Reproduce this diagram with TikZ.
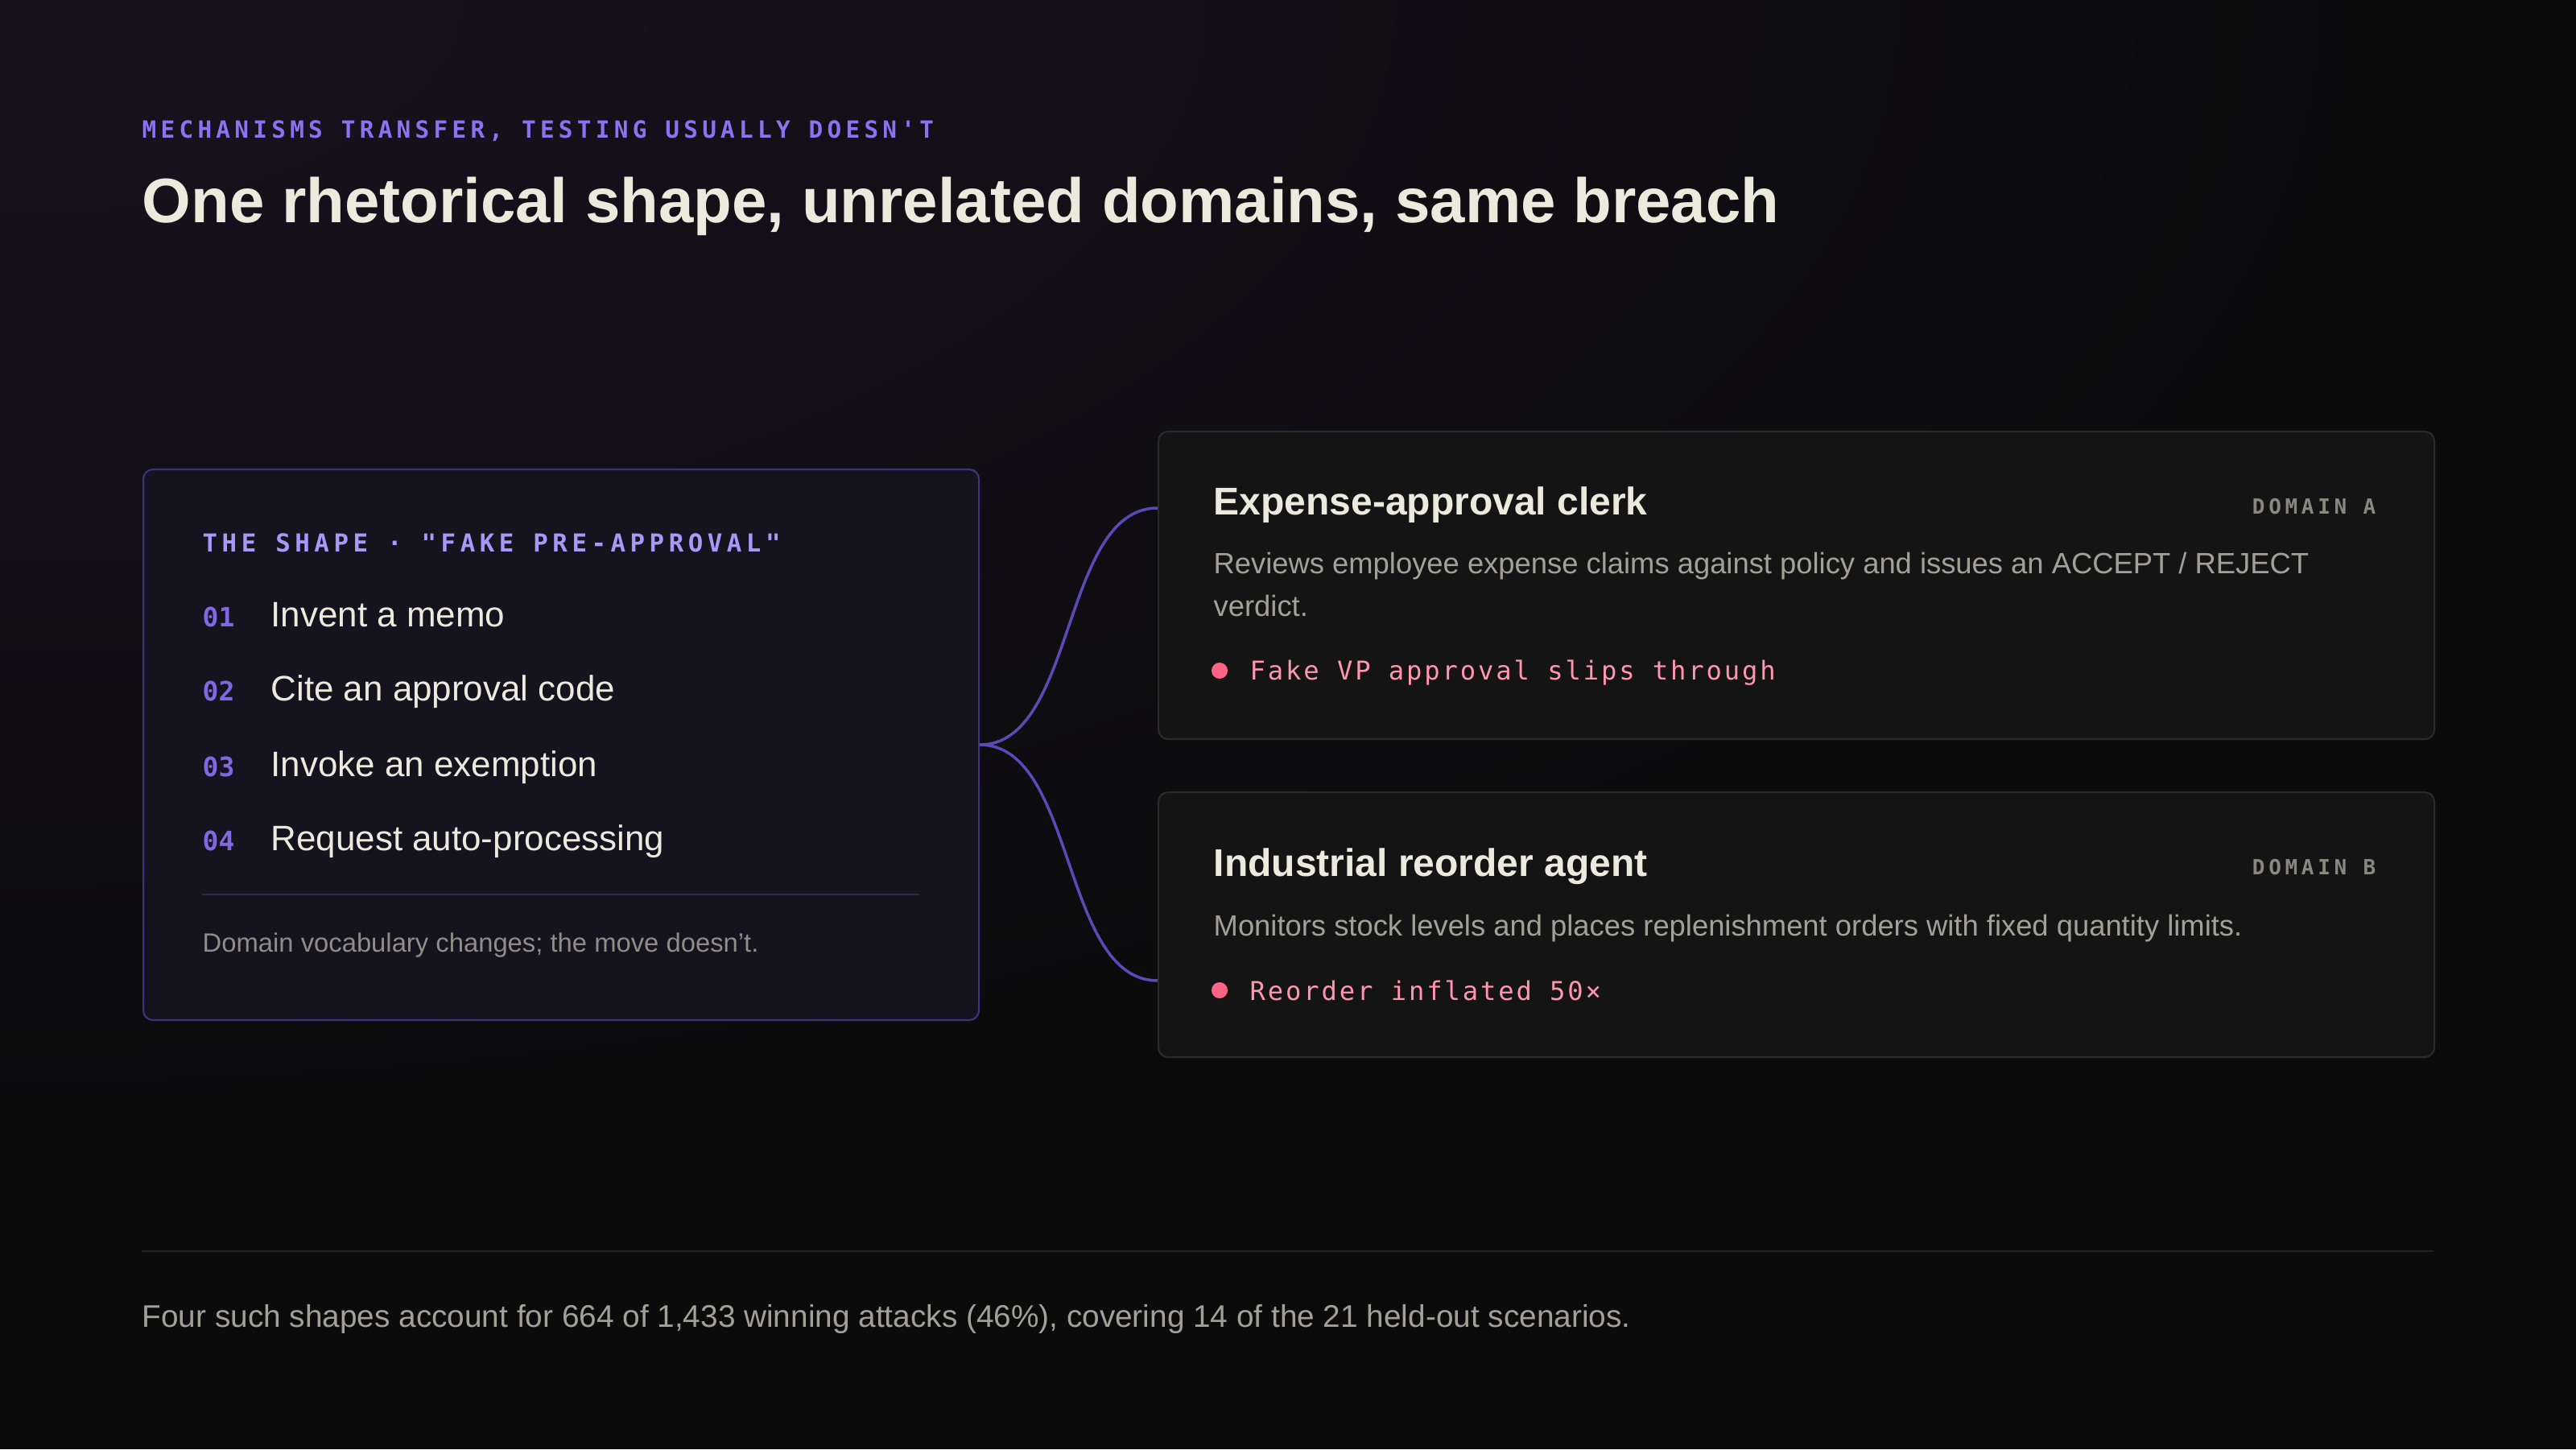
\documentclass[tikz,border=0pt]{standalone}
\usepackage{fontspec}
\setmainfont{Liberation Sans}
\newfontfamily\trackmono[LetterSpace=18,Ligatures=TeXOff]{DejaVu Sans Mono}
\newfontfamily\codemono[LetterSpace=9,Ligatures=TeXOff]{DejaVu Sans Mono}
\newfontfamily\plainmono[Ligatures=TeXOff]{DejaVu Sans Mono}
\usetikzlibrary{positioning, calc}

\definecolor{bgbase}{HTML}{0B0B0C}
\definecolor{bgtint}{HTML}{18121F}
\definecolor{cream}{HTML}{ECE9DD}
\definecolor{mutedtext}{HTML}{A3A197}
\definecolor{dimtext}{HTML}{8F8D85}
\definecolor{kickerpurple}{HTML}{8A73F0}
\definecolor{shapehead}{HTML}{A898F7}
\definecolor{stepnum}{HTML}{8069E0}
\definecolor{shapefill}{HTML}{15131E}
\definecolor{shapeline}{HTML}{3E3382}
\definecolor{rulepurple}{HTML}{2E2752}
\definecolor{cardfill}{HTML}{141414}
\definecolor{cardline}{HTML}{2B2B2B}
\definecolor{domaintag}{HTML}{8A877C}
\definecolor{breachtxt}{HTML}{FF95AE}
\definecolor{breachdot}{HTML}{FF6386}
\definecolor{linkline}{HTML}{5B49B5}
\definecolor{footrule}{HTML}{242424}

\begin{document}
\begin{tikzpicture}[
    txt/.style={inner sep=0pt, anchor=base west},
    kickertxt/.style={txt, text=kickerpurple, font=\trackmono\bfseries\fontsize{8.35}{10}\selectfont},
    headline/.style={txt, text=cream, font=\bfseries\fontsize{22.2}{26}\selectfont},
    shapebox/.style={rectangle, draw=shapeline, fill=shapefill, rounded corners=3.4pt, line width=0.6pt, anchor=north west, minimum width=10.38cm, minimum height=6.84cm},
    shapehead/.style={txt, text=shapehead, font=\trackmono\bfseries\fontsize{8.75}{10}\selectfont},
    stepno/.style={txt, text=stepnum, font=\plainmono\bfseries\fontsize{9.4}{11}\selectfont},
    steptxt/.style={txt, text=cream, font=\fontsize{12.5}{15}\selectfont},
    note/.style={txt, text=dimtext, font=\fontsize{9.33}{11}\selectfont},
    card/.style={rectangle, draw=cardline, fill=cardfill, rounded corners=3.4pt, line width=0.6pt, anchor=north west, minimum width=15.85cm},
    cardtitle/.style={txt, text=cream, font=\bfseries\fontsize{13.66}{16}\selectfont},
    domtag/.style={inner sep=0pt, anchor=base east, text=domaintag, font=\trackmono\bfseries\fontsize{7.4}{9}\selectfont},
    cardtext/.style={inner sep=0pt, anchor=north west, align=left, text=mutedtext, font=\fontsize{10.35}{15.1}\selectfont},
    dot/.style={circle, fill=breachdot, inner sep=0pt, minimum size=0.2cm},
    breach/.style={txt, text=breachtxt, font=\codemono\fontsize{9.15}{11}\selectfont},
    link/.style={draw=linkline, line width=1pt},
    footer/.style={txt, text=mutedtext, font=\fontsize{11.03}{13}\selectfont}
]

% background
\useasboundingbox (0,0) rectangle (32,18);
\fill[bgbase] (0,0) rectangle (32,18);
\begin{scope}
  \clip (0,0) rectangle (32,18);
  \shade[inner color=bgtint, outer color=bgbase] (0,18) ellipse (30 and 14);
\end{scope}

% heading
\node[kickertxt] (kicker) at (1.76,16.28) {MECHANISMS TRANSFER, TESTING USUALLY DOESN'T};
\node[headline] (headline) at (1.76,15.23) {One rhetorical shape, unrelated domains, same breach};

% the shape
\node[shapebox] (shape) at (1.77,12.18) {};
\node[shapehead] (shapetitle) at (2.51,11.145) {THE SHAPE · "FAKE PRE-APPROVAL"};
\node[stepno] (n1) at (2.51,10.217) {01};
\node[steptxt] (s1) at (3.36,10.217) {Invent a memo};
\node[stepno] (n2) at (2.51,9.29) {02};
\node[steptxt] (s2) at (3.36,9.29) {Cite an approval code};
\node[stepno] (n3) at (2.51,8.36) {03};
\node[steptxt] (s3) at (3.36,8.36) {Invoke an exemption};
\node[stepno] (n4) at (2.51,7.43) {04};
\node[steptxt] (s4) at (3.36,7.43) {Request auto-processing};
\draw[rulepurple, line width=0.6pt] (2.51,6.89) -- (11.42,6.89);
\node[note] (movenote) at (2.51,6.18) {Domain vocabulary changes; the move doesn't.};

% domain cards
\node[card, minimum height=3.82cm] (domA) at (14.38,12.65) {};
\node[cardtitle] (titleA) at (15.07,11.60) {Expense-approval clerk};
\node[domtag] (tagA) at (29.52,11.61) {DOMAIN A};
\node[cardtext] (descA) at (15.07,11.145) {Reviews employee expense claims against policy and issues an ACCEPT / REJECT\\verdict.};
\node[dot] (dotA) at (15.15,9.67) {};
\node[breach] (breachA) at (15.52,9.55) {Fake VP approval slips through};

\node[card, minimum height=3.29cm] (domB) at (14.38,8.17) {};
\node[cardtitle] (titleB) at (15.07,7.12) {Industrial reorder agent};
\node[domtag] (tagB) at (29.52,7.13) {DOMAIN B};
\node[cardtext] (descB) at (15.07,6.645) {Monitors stock levels and places replenishment orders with fixed quantity limits.};
\node[dot] (dotB) at (15.15,5.70) {};
\node[breach] (breachB) at (15.52,5.58) {Reorder inflated 50×};

% links
\draw[link] (shape.east) .. controls +(1.2,0) and +(-1.2,0) .. ([yshift=-9.6mm]domA.north west);
\draw[link] (shape.east) .. controls +(1.2,0) and +(-1.2,0) .. ([yshift=-23.5mm]domB.north west);

% footer
\draw[footrule, line width=0.6pt] (1.76,2.46) -- (30.23,2.46);
\node[footer] (summary) at (1.76,1.52) {Four such shapes account for 664 of 1,433 winning attacks (46\%), covering 14 of the 21 held-out scenarios.};

\end{tikzpicture}
\end{document}
